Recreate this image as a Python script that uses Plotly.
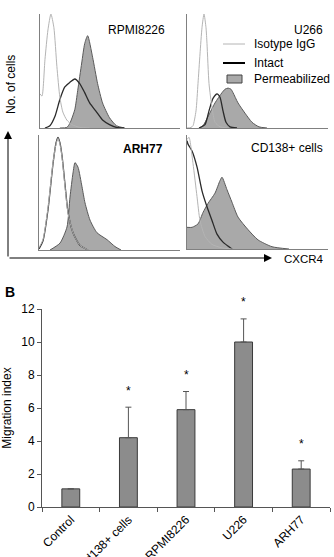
import plotly.graph_objects as go

W, H = 334, 557
FONT = "Liberation Sans, Arial, sans-serif"

# ---------------- Panel A: flow cytometry histograms (channel, % of max) ----------------
# RPMI8226
tl_iso_x = [0, 2, 5, 8, 11, 14, 17, 20, 23, 27, 32, 40, 50]
tl_iso_y = [30, 28, 60, 86, 100, 88, 54, 27, 14, 7, 3, 0.5, 0]
tl_int_x = [5, 10, 15, 20, 25, 30, 35, 40, 45, 50, 57, 63, 70, 77, 85]
tl_int_y = [0, 2, 10, 25, 36, 40, 43, 39, 31, 22, 14, 7, 3, 0.5, 0]
tl_per_x = [20, 27, 30, 35, 38, 42, 45, 48, 53, 58, 63, 70, 77, 85]
tl_per_y = [0, 0.5, 4, 16, 33, 57, 74, 81, 62, 39, 22, 9, 2, 0]
# U266
tr_iso_x = [0, 4, 6, 9, 11, 13, 15, 17, 19, 20, 22, 25, 28, 33, 40]
tr_iso_y = [0, 0.5, 2, 15, 39, 65, 88, 100, 88, 74, 39, 18, 5, 1, 0]
tr_int_x = [12, 18, 22, 26, 30, 33, 36, 39, 43, 50]
tr_int_y = [0, 3, 15, 26, 30, 27, 15, 5, 1, 0]
tr_per_x = [12, 16, 21, 28, 35, 38, 41, 44, 46, 51, 58, 65, 72, 80]
tr_per_y = [0, 2, 10, 22, 31, 34, 35, 34, 31, 22, 13, 5, 1, 0]
# ARH77
bl_iso_x = [0, 4, 9, 14, 17, 19, 21, 23, 26, 29, 34, 41, 49]
bl_iso_y = [2, 9, 37, 76, 92, 97, 92, 81, 55, 32, 15, 4, 0]
bl_int_x = [0, 4, 9, 14, 17, 19, 21, 23, 26, 29, 34, 41, 49]
bl_int_y = [1, 8, 35, 75, 93, 98, 93, 82, 57, 33, 15, 4, 0]
bl_per_x = [11, 21, 28, 31, 34, 36, 39, 43, 46, 51, 58, 68, 76, 82]
bl_per_y = [0, 6, 20, 46, 67, 76, 72, 55, 41, 26, 15, 9, 3, 0]
# CD138+ cells
br_iso_x = [0, 2, 6, 10, 13, 18, 25, 35, 45]
br_iso_y = [96, 98, 75, 46, 25, 11, 4, 1, 0]
br_int_x = [0, 1, 5, 10, 15, 20, 25, 30, 36, 45]
br_int_y = [95, 92, 86, 72, 51, 37, 25, 13, 6, 0]
br_per_x = [0, 5, 11, 16, 21, 28, 33, 35, 40, 45, 51, 61, 71, 85, 102]
br_per_y = [19, 19, 22, 32, 40, 49, 60, 63, 52, 41, 28, 17, 8, 2, 0]

panel_names = ["RPMI8226", "U266", "ARH77", "CD138+ cells"]

# ---------------- Panel B: migration bar chart ----------------
categories = ["Control", "Cd138+ cells", "RPMI8226", "U226", "ARH77"]
migration = [1.1, 4.2, 5.9, 10.0, 2.3]
err_up = [0, 1.85, 1.1, 1.4, 0.5]
significant = [False, True, True, True, True]
y_ticks = [0, 2, 4, 6, 8, 10, 12]
Y_MAX = 12


def px(x):
    return x / W


def py(y):
    return 1 - y / H


ISO = dict(color="#b4b4b4", width=1)
INT = dict(color="#2a2a2a", width=1.3)
PER_LINE = dict(color="#5a5a5a", width=1)
PER_FILL = "#a9a9a9"

fig = go.Figure()

panels = [
    ("x", "y", tl_iso_x, tl_iso_y, tl_int_x, tl_int_y, tl_per_x, tl_per_y),
    ("x2", "y2", tr_iso_x, tr_iso_y, tr_int_x, tr_int_y, tr_per_x, tr_per_y),
    ("x3", "y3", bl_iso_x, bl_iso_y, bl_int_x, bl_int_y, bl_per_x, bl_per_y),
    ("x4", "y4", br_iso_x, br_iso_y, br_int_x, br_int_y, br_per_x, br_per_y),
]
for xa, ya, ix, iy, nx, ny, qx, qy in panels:
    fig.add_trace(go.Scatter(x=qx, y=qy, xaxis=xa, yaxis=ya, mode="lines",
                             line=dict(shape="spline", smoothing=0.6, **PER_LINE),
                             fill="tozeroy", fillcolor=PER_FILL, showlegend=False,
                             hoverinfo="skip"))
    fig.add_trace(go.Scatter(x=nx, y=ny, xaxis=xa, yaxis=ya, mode="lines",
                             line=dict(shape="spline", smoothing=0.6, **INT),
                             showlegend=False, hoverinfo="skip"))
    fig.add_trace(go.Scatter(x=ix, y=iy, xaxis=xa, yaxis=ya, mode="lines",
                             line=dict(shape="spline", smoothing=0.6, **ISO),
                             showlegend=False, hoverinfo="skip"))

# bar chart
fig.add_trace(go.Bar(
    x=categories, y=migration, xaxis="x5", yaxis="y5", width=0.31,
    marker=dict(color="#8c8c8c", line=dict(color="#3a3a3a", width=1)),
    error_y=dict(type="data", symmetric=False, array=err_up,
                 arrayminus=[0] * len(err_up), color="#555555", thickness=1, width=3),
    showlegend=False, hoverinfo="skip"))

hist_axis = dict(showline=True, linecolor="#808080", linewidth=1, showticklabels=False,
                 ticks="", showgrid=False, zeroline=False, fixedrange=True, automargin=False)

layout = dict(
    width=W, height=H, margin=dict(l=0, r=0, t=0, b=0, autoexpand=False),
    paper_bgcolor="white", plot_bgcolor="rgba(0,0,0,0)",
    font=dict(family=FONT, size=12, color="black"),
    xaxis=dict(domain=[px(40), px(180)], anchor="y", range=[0, 141], **hist_axis),
    yaxis=dict(domain=[py(128), py(14)], anchor="x", range=[0, 100], **hist_axis),
    xaxis2=dict(domain=[px(187), px(328)], anchor="y2", range=[0, 141], **hist_axis),
    yaxis2=dict(domain=[py(128), py(14)], anchor="x2", range=[0, 100], **hist_axis),
    xaxis3=dict(domain=[px(39), px(180)], anchor="y3", range=[0, 141], **hist_axis),
    yaxis3=dict(domain=[py(250), py(135)], anchor="x3", range=[0, 100], **hist_axis),
    xaxis4=dict(domain=[px(187), px(328)], anchor="y4", range=[0, 141], **hist_axis),
    yaxis4=dict(domain=[py(249), py(135)], anchor="x4", range=[0, 100], **hist_axis),
    xaxis5=dict(domain=[px(42), px(330)], anchor="y5", type="category",
                categoryorder="array", categoryarray=categories, automargin=False,
                showline=True, linecolor="#555", linewidth=1, ticks="outside",
                tickson="boundaries", ticklen=4, tickcolor="#555", tickangle=-45,
                tickfont=dict(size=12), showgrid=False, zeroline=False),
    yaxis5=dict(domain=[py(507), py(309)], anchor="x5", range=[0, Y_MAX], automargin=False,
                tickvals=y_ticks, showline=True, linecolor="#555", linewidth=1,
                ticks="outside", ticklen=4, tickcolor="#555", tickfont=dict(size=12),
                showgrid=False, zeroline=False,
                title=dict(text="Migration index", font=dict(size=12), standoff=8)),
    bargap=0.69,
)
fig.update_layout(**layout)

ann = []
# panel names
ann.append(dict(text=panel_names[0], x=px(167), y=py(30.5), xanchor="right", yanchor="middle"))
ann.append(dict(text=panel_names[1], x=px(325), y=py(30.5), xanchor="right", yanchor="middle"))
ann.append(dict(text="<b>" + panel_names[2] + "</b>", x=px(165), y=py(149), xanchor="right", yanchor="middle"))
ann.append(dict(text=panel_names[3], x=px(325), y=py(148), xanchor="right", yanchor="middle"))
# legend text
ann.append(dict(text="Isotype IgG", x=px(252), y=py(44), xanchor="left", yanchor="middle"))
ann.append(dict(text="Intact", x=px(252), y=py(63), xanchor="left", yanchor="middle"))
ann.append(dict(text="Permeabilized", x=px(252), y=py(79), xanchor="left", yanchor="middle"))
# axis labels of panel A
ann.append(dict(text="No. of cells", x=px(11), y=py(85), xanchor="center", yanchor="middle",
                textangle=-90, font=dict(size=12)))
ann.append(dict(text="CXCR4", x=px(282), y=py(259), xanchor="left", yanchor="middle",
                font=dict(size=11.5)))
ann.append(dict(text="<b>B</b>", x=px(3), y=py(292), xanchor="left", yanchor="middle",
                font=dict(size=14)))
# arrows
ann.append(dict(text="", x=px(8), y=py(131), ax=0, ay=127, showarrow=True,
                arrowhead=2, arrowsize=1.6, arrowwidth=1, arrowcolor="black"))
ann.append(dict(text="", x=px(272), y=py(258), ax=-264, ay=0, showarrow=True,
                arrowhead=2, arrowsize=1.6, arrowwidth=1, arrowcolor="black"))
for a in ann:
    a.setdefault("xref", "paper")
    a.setdefault("yref", "paper")
    a.setdefault("showarrow", False)

# significance asterisks (positioned from the bar value + error, in axis-domain units)
for i, (v, e, s) in enumerate(zip(migration, err_up, significant)):
    if s:
        ann.append(dict(text="*", x=(i + 0.5) / len(categories), y=(v + e + 1.0) / Y_MAX,
                        xref="x5 domain", yref="y5 domain",
                        showarrow=False, xanchor="center", yanchor="middle",
                        font=dict(size=12)))

fig.update_layout(annotations=ann)

# legend samples
shapes = [
    dict(type="line", xref="paper", yref="paper", x0=px(223), x1=px(245), y0=py(44), y1=py(44),
         line=dict(color=ISO["color"], width=1)),
    dict(type="line", xref="paper", yref="paper", x0=px(223), x1=px(245), y0=py(63), y1=py(63),
         line=dict(color="black", width=2)),
    dict(type="rect", xref="paper", yref="paper", x0=px(227), x1=px(242), y0=py(83), y1=py(75),
         line=dict(color="#444", width=1), fillcolor=PER_FILL),
]
fig.update_layout(shapes=shapes)

fig.write_html("out.html")
